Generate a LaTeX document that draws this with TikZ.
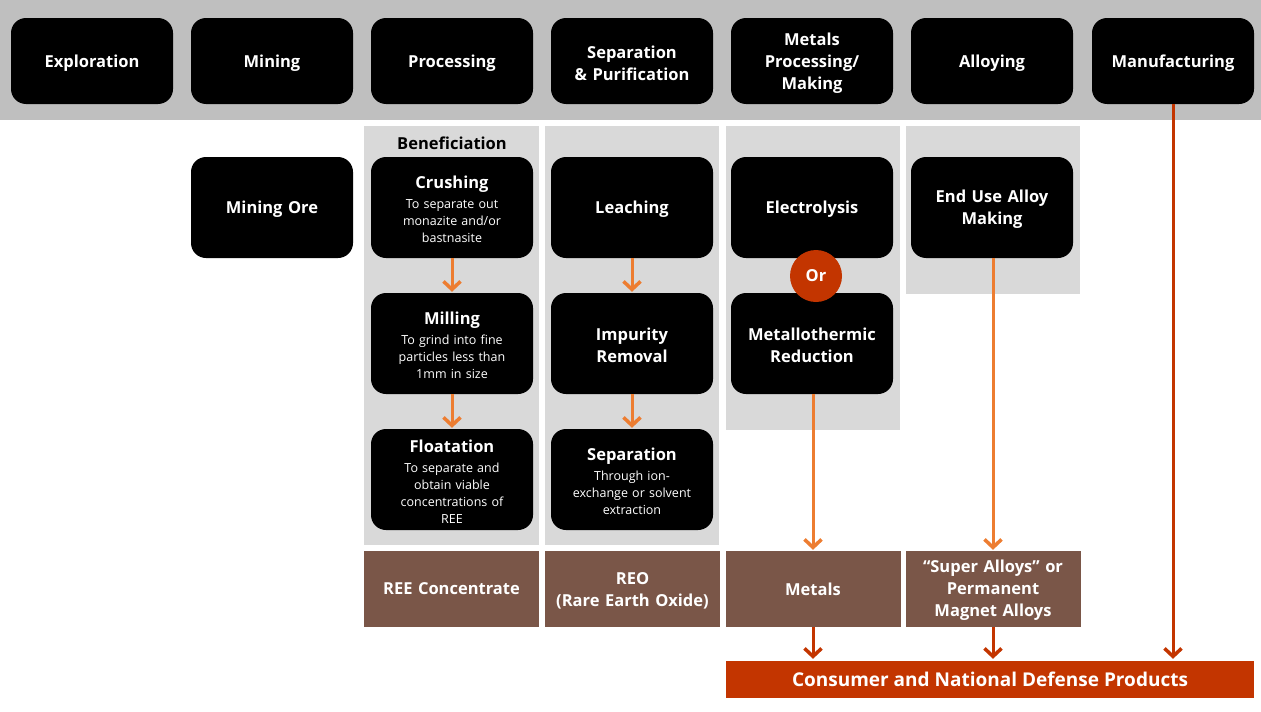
\documentclass[tikz,border=0pt]{standalone}
\usepackage{fontspec}
\setmainfont{Open Sans}
\usetikzlibrary{arrows.meta}
\definecolor{band}{RGB}{191,191,191}
\definecolor{panel}{RGB}{217,217,217}
\definecolor{brownbox}{RGB}{122,86,72}
\definecolor{redbar}{RGB}{195,53,0}
\definecolor{orarrow}{RGB}{237,125,49}
\newcommand\mytailfix[1]{\endgraf\vspace*{-#1}}
\begin{document}
\begin{tikzpicture}[x=1pt,y=-1pt,
  blk/.style={fill=black, rounded corners=15pt, minimum width=162pt, minimum height=101pt,
    text=white, align=center, inner sep=0pt, text width=160pt,
    execute at end node={\mytailfix{4pt}},
    font=\fontsize{16.5}{22}\selectfont\bfseries},
  blksub/.style={blk, font=\fontsize{12.5}{17}\selectfont},
  topblk/.style={blk, minimum height=86pt},
  brn/.style={fill=brownbox, minimum width=175pt, minimum height=76pt, inner sep=0pt,
    text=white, align=center, text width=172pt,
    execute at end node={\mytailfix{3pt}},
    font=\fontsize{16.5}{22}\selectfont\bfseries},
  oarr/.style={draw=orarrow, line width=3pt, -{Straight Barb[length=8pt,width=17pt,line width=3.5pt]}, shorten >=1pt},
  rarr/.style={draw=redbar, line width=3pt, -{Straight Barb[length=8pt,width=17pt,line width=3.5pt]}, shorten >=2pt}
]
\useasboundingbox (0,0) rectangle (1261,712);
% band and panels
\fill[band] (0,0) rectangle (1261,120);
\fill[panel] (364,126) rectangle (539,545);
\fill[panel] (545,126) rectangle (719,545);
\fill[panel] (726,126) rectangle (900,430);
\fill[panel] (906,126) rectangle (1080,294);
% top row
\node[topblk] (expl) at (92,61) {Exploration};
\node[topblk] (mine) at (272,61) {Mining};
\node[topblk] (proc) at (452,61) {Processing};
\node[topblk] (sepp) at (632,61) {Separation\\\& Purification};
\node[topblk] (metp) at (812,61) {Metals\\Processing/\\Making};
\node[topblk] (allo) at (992,61) {Alloying};
\node[topblk] (manu) at (1173,61) {Manufacturing};
% label
\node[font=\fontsize{16.5}{19}\selectfont\bfseries] (benef) at (452,143) {Beneficiation};
% column boxes
\node[blk] (ore) at (272,207.5) {Mining Ore};
\node[blksub] (crush) at (452,207.5) {{\fontsize{16.5}{19}\selectfont\bfseries Crushing}\\[3pt]To separate out\\monazite and/or\\bastnasite};
\node[blksub] (mill) at (452,343.5) {{\fontsize{16.5}{19}\selectfont\bfseries Milling}\\[3pt]To grind into fine\\particles less than\\1mm in size};
\node[blksub] (float) at (452,479.5) {{\fontsize{16.5}{19}\selectfont\bfseries Floatation}\\[3pt]To separate and\\obtain viable\\concentrations of\\REE};
\node[blk] (leach) at (632,207.5) {Leaching};
\node[blk] (impur) at (632,343.5) {Impurity\\Removal};
\node[blksub] (sepa) at (632,479.5) {{\fontsize{16.5}{19}\selectfont\bfseries Separation}\\[3pt]Through ion-\\exchange or solvent\\extraction};
\node[blk] (elec) at (812,207.5) {Electrolysis};
\node[blk] (metal) at (812,343.5) {Metallothermic\\Reduction};
\node[blk] (enduse) at (992,207.5) {End Use Alloy\\Making};
\node[circle, fill=redbar, minimum size=52pt, inner sep=0pt, text=white,
  font=\fontsize{16.5}{19}\selectfont\bfseries] (or) at (816,276) {\raisebox{-1.5pt}{Or}};
% brown boxes
\node[brn] (reec) at (451.5,589) {REE Concentrate};
\node[brn] (reo) at (632.5,589) {REO\\(Rare Earth Oxide)};
\node[brn] (metals) at (813,589) {Metals};
\node[brn] (super) at (993,589) {“Super Alloys” or\\Permanent\\Magnet Alloys};
% red bar
\node[fill=redbar, minimum width=528pt, minimum height=37pt, inner sep=0pt, text=white,
  font=\fontsize{19}{22}\selectfont\bfseries] (bar) at (990,679.5) {Consumer and National Defense Products};
% arrows
\draw[oarr] (crush.south) -- (mill.north);
\draw[oarr] (mill.south) -- (float.north);
\draw[oarr] (leach.south) -- (impur.north);
\draw[oarr] (impur.south) -- (sepa.north);
\draw[oarr] (metal.south -| metals.north) -- (metals.north);
\draw[oarr] (enduse.south -| super.north) -- (super.north);
\draw[rarr] (metals.south) -- (metals.south |- bar.north);
\draw[rarr] (super.south) -- (super.south |- bar.north);
\draw[rarr] (manu.south) -- (manu.south |- bar.north);
\end{tikzpicture}
\end{document}
